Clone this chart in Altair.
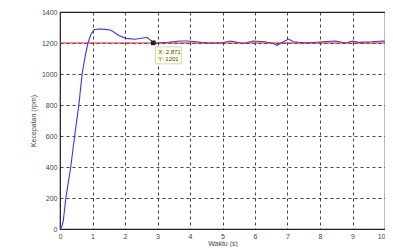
import altair as alt
import pandas as pd

# blue response curve (time in s, speed in rpm)
t = [0, 0.05, 0.1, 0.18, 0.33, 0.45, 0.58, 0.68, 0.78, 0.86, 0.95, 1.05, 1.2, 1.4, 1.57,
     1.8, 2.02, 2.32, 2.55, 2.68, 2.8, 2.871, 3.03, 3.33, 3.7, 3.9, 4.1, 4.55, 4.95,
     5.25, 5.65, 5.95, 6.3, 6.57, 6.67, 6.88, 7.03, 7.18, 7.58, 8.09, 8.48, 8.79, 9.0,
     9.18, 9.6, 9.94, 10]
speed = [0, 12, 50, 200, 400, 600, 800, 1000, 1120, 1200, 1255, 1285, 1290, 1288, 1282,
         1250, 1230, 1224, 1232, 1235, 1215, 1201, 1200, 1205, 1213, 1213, 1210, 1200, 1200,
         1213, 1197, 1213, 1208, 1197, 1185, 1208, 1225, 1208, 1200, 1208, 1213, 1200, 1213,
         1204, 1208, 1213, 1210]

setpoint = [1200]
tip_x = [2.871]
tip_y = [1201]
x_ticks = list(range(0, 11))
y_ticks = list(range(0, 1401, 200))

df = pd.DataFrame({"t": t, "speed": speed})
ref = pd.DataFrame({"t": [0], "speed": setpoint})
tip = pd.DataFrame({"t": tip_x, "speed": tip_y,
                    "l1": [f"X: {tip_x[0]}"], "l2": [f"Y: {tip_y[0]}"]})

xs = alt.Scale(domain=[0, 10], nice=False)
ys = alt.Scale(domain=[0, 1400], nice=False)

xax = alt.Axis(values=x_ticks, tickCount=11, title="Waktu (s)", grid=True,
               labelOverlap=False, format="d", labelFlush=False,
               labelAlign={"condition": {"test": "datum.value >= 10", "value": "right"},
                           "value": "center"},
               titleY=16, titleBaseline="alphabetic", labelPadding=3)
yax = alt.Axis(values=y_ticks, tickCount=8, title="Kecepatan (rpm)", grid=True,
               labelOverlap=False, format="d", labelFlush=False, labelPadding=3,
               titlePadding=5)

X = alt.X("t:Q", scale=xs, axis=xax)
Y = alt.Y("speed:Q", scale=ys, axis=yax)

line = alt.Chart(df).mark_line(color="#3333ff", strokeWidth=1.1, clip=True).encode(x=X, y=Y)

red = alt.Chart(ref).mark_rule(color="#e02020", strokeWidth=1.1).encode(y=Y)

box = alt.Chart(tip).mark_rect(
    fill="#ffffe6", stroke="#c8c8b0", strokeWidth=0.8,
    xOffset=2, x2Offset=28, yOffset=4, y2Offset=21
).encode(x=X, x2="t:Q", y=Y, y2="speed:Q")

marker = alt.Chart(tip).mark_square(size=22, color="#222222", opacity=1).encode(x=X, y=Y)

txt1 = alt.Chart(tip).mark_text(
    align="left", baseline="middle", dx=5, dy=9, fontSize=6, color="#444444",
    font="Liberation Sans"
).encode(x=X, y=Y, text="l1:N")

txt2 = alt.Chart(tip).mark_text(
    align="left", baseline="middle", dx=5, dy=16, fontSize=6, color="#444444",
    font="Liberation Sans"
).encode(x=X, y=Y, text="l2:N")

chart = alt.layer(line, red, box, marker, txt1, txt2).properties(
    width=325, height=217,
    autosize=alt.AutoSizeParams(type="none"),
    padding={"left": 52, "top": 4, "right": 0, "bottom": 18},
).configure_view(
    stroke="#222222", strokeWidth=1.2
).configure_axis(
    labelFont="Liberation Sans", titleFont="Liberation Sans",
    labelFontSize=7, titleFontSize=7, titleFontWeight="normal",
    labelColor="#444444", titleColor="#444444",
    gridColor="#222222", gridDash=[3, 3], gridWidth=1, gridOpacity=0.85,
    ticks=False, domain=False,
)

chart.save("out.html", embed_options={"renderer": "svg", "actions": False})
